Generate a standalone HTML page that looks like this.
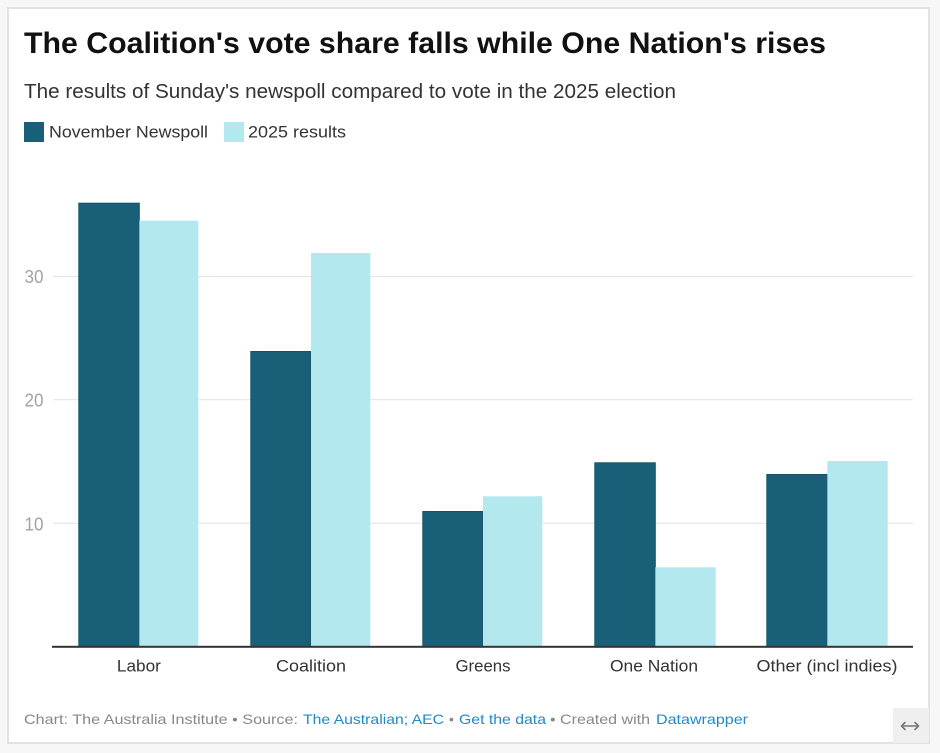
<!DOCTYPE html>
<html>
<head>
<meta charset="utf-8">
<style>
html,body{margin:0;padding:0;background:#f7f7f7;}
body{width:940px;height:753px;overflow:hidden;position:relative;}
svg{position:absolute;left:0;top:0;}
text{font-family:"Liberation Sans",Arial,sans-serif;}
</style>
</head>
<body>
<svg width="940" height="753" viewBox="0 0 940 753" xmlns="http://www.w3.org/2000/svg">
  <rect x="0" y="0" width="940" height="753" fill="#f7f7f7"/>
  <rect x="8" y="8" width="921" height="735" fill="#ffffff" stroke="#e2e2e2" stroke-width="2"/>

  <text x="24" y="53" font-size="30" font-weight="bold" fill="#111" textLength="802" lengthAdjust="spacingAndGlyphs">The Coalition's vote share falls while One Nation's rises</text>
  <text x="24" y="98" font-size="20.5" fill="#333" textLength="652" lengthAdjust="spacingAndGlyphs">The results of Sunday's newspoll compared to vote in the 2025 election</text>

  <rect x="24" y="122" width="20" height="20" fill="#1a5f78"/>
  <text x="49" y="137.5" font-size="17" fill="#333" textLength="159" lengthAdjust="spacingAndGlyphs">November Newspoll</text>
  <rect x="224" y="122" width="20" height="20" fill="#b3e8ee"/>
  <text x="248" y="137.5" font-size="17" fill="#333" textLength="98" lengthAdjust="spacingAndGlyphs">2025 results</text>

  <g stroke="#e6e6e6" stroke-width="1.2">
    <line x1="53" y1="276.5" x2="913" y2="276.5"/>
    <line x1="53" y1="399.7" x2="913" y2="399.7"/>
    <line x1="53" y1="523.3" x2="913" y2="523.3"/>
  </g>

  <g font-size="18" fill="#a3a3a3" text-anchor="end">
    <text x="43.5" y="283" textLength="19" lengthAdjust="spacingAndGlyphs">30</text>
    <text x="43.5" y="406.7" textLength="19" lengthAdjust="spacingAndGlyphs">20</text>
    <text x="43.5" y="530.3" textLength="19" lengthAdjust="spacingAndGlyphs">10</text>
  </g>

  <g fill="#1a5f78" stroke="#14526a" stroke-width="1">
    <rect x="78.8" y="203.2" width="60.5" height="443"/>
    <rect x="250.8" y="351.5" width="60.2" height="295"/>
    <rect x="422.8" y="511.5" width="60.2" height="135"/>
    <rect x="594.8" y="462.8" width="60.5" height="184"/>
    <rect x="766.8" y="474.5" width="60.5" height="172"/>
  </g>
  <g fill="#b3e8ee">
    <rect x="139.3" y="220.7" width="59" height="426"/>
    <rect x="311" y="253" width="59.3" height="393.5"/>
    <rect x="483" y="496.3" width="59.3" height="150"/>
    <rect x="655.3" y="567.3" width="60.4" height="79"/>
    <rect x="827.3" y="461" width="60.4" height="185.5"/>
  </g>

  <rect x="52" y="645.8" width="861" height="2" fill="#333"/>

  <g font-size="17" fill="#333" text-anchor="middle">
    <text x="138.9" y="671.7" textLength="44" lengthAdjust="spacingAndGlyphs">Labor</text>
    <text x="311" y="671.7" textLength="70" lengthAdjust="spacingAndGlyphs">Coalition</text>
    <text x="483" y="671.7" textLength="55" lengthAdjust="spacingAndGlyphs">Greens</text>
    <text x="654" y="671.7" textLength="88" lengthAdjust="spacingAndGlyphs">One Nation</text>
    <text x="827" y="671.7" textLength="141" lengthAdjust="spacingAndGlyphs">Other (incl indies)</text>
  </g>

  <g font-size="14">
    <text x="24" y="724" fill="#888" textLength="274" lengthAdjust="spacingAndGlyphs">Chart: The Australia Institute • Source:</text>
    <text x="303" y="724" fill="#1f8ac9" textLength="141" lengthAdjust="spacingAndGlyphs">The Australian; AEC</text>
    <text x="449" y="724" fill="#888">•</text>
    <text x="459" y="724" fill="#1f8ac9" textLength="87" lengthAdjust="spacingAndGlyphs">Get the data</text>
    <text x="550" y="724" fill="#888" textLength="100" lengthAdjust="spacingAndGlyphs">• Created with</text>
    <text x="656" y="724" fill="#1f8ac9" textLength="92" lengthAdjust="spacingAndGlyphs">Datawrapper</text>
  </g>

  <rect x="893" y="708" width="36" height="35" fill="#efefef"/>
  <g stroke="#777" stroke-width="1.6" fill="none" stroke-linecap="round" stroke-linejoin="round">
    <line x1="902" y1="726" x2="918" y2="726"/>
    <polyline points="905,722.5 901.5,726 905,729.5"/>
    <polyline points="915,722.5 918.5,726 915,729.5"/>
  </g>
</svg>
</body>
</html>
